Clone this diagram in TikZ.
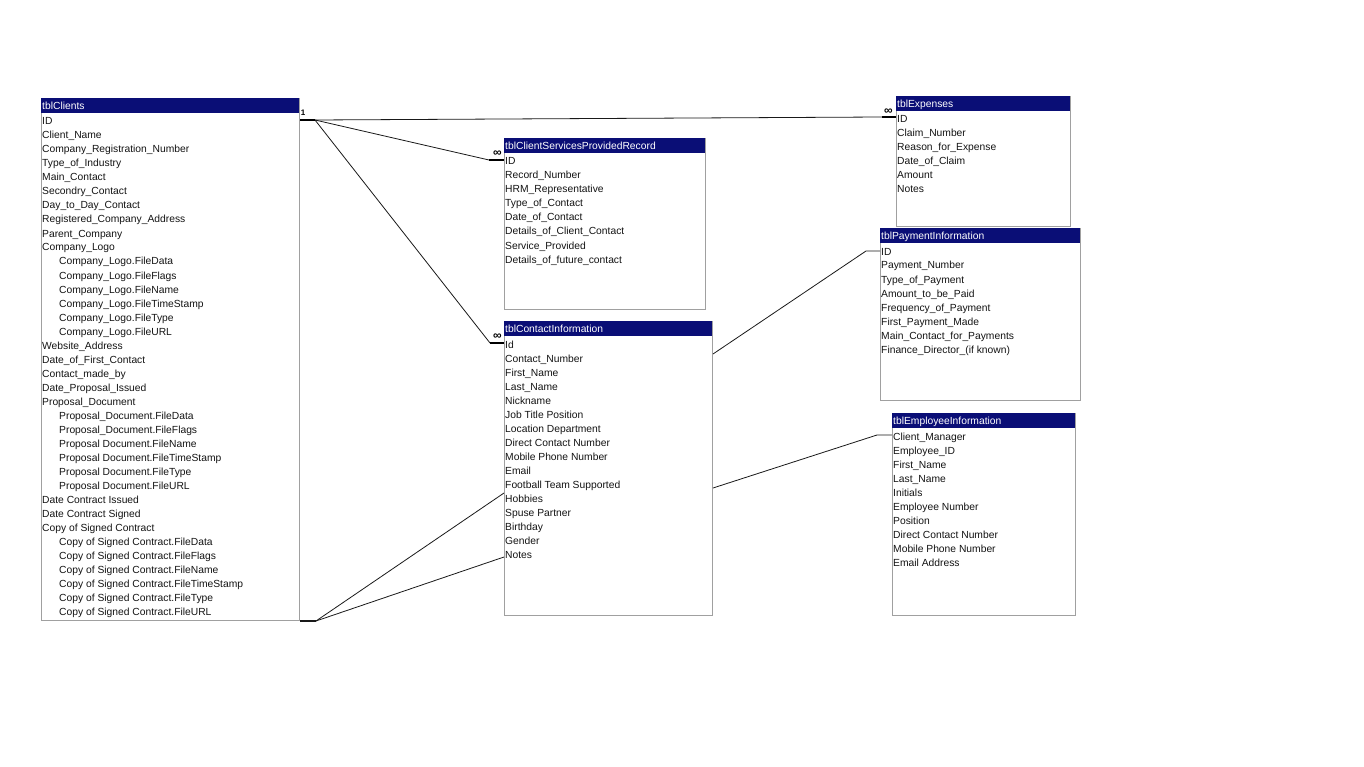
\documentclass[tikz,border=0pt]{standalone}
\usepackage{fontspec}
\setmainfont{Liberation Sans}
\usetikzlibrary{calc}
\definecolor{hdr}{RGB}{10,14,118}
\definecolor{bord}{RGB}{160,160,160}
\tikzset{
  tbox/.style={draw=bord, line width=1pt, fill=white, inner sep=0pt},
  htext/.style={text=white, font=\fontsize{10.3}{12}\selectfont, inner sep=0pt},
  fld/.style={text=black!92, font=\fontsize{10.3}{12}\selectfont, inner sep=0pt},
  link/.style={draw=black!90, line width=0.8pt},
  joint/.style={draw=black, line width=2.6pt},
  cardlab/.style={font=\bfseries\fontsize{8}{9}\selectfont, inner sep=0pt},
  manylab/.style={font=\bfseries\fontsize{12}{13}\selectfont, inner sep=0pt},
}
% name, x, ytop, width, height, title, fields (indent/text)
\newcommand\dbtab[7]{%
  \node[tbox, minimum width=#4pt, minimum height=#5pt, anchor=north west] (#1) at (#2,#3) {};
  \fill[hdr] (#2,#3) rectangle ++(#4,15);
  \node[htext, anchor=base west] (#1-h) at (#2+1,#3+11.8) {#6};
  \foreach \ind/\txt [count=\i] in {#7} {
    \node[fld, anchor=base west] (#1-\i) at (#2+1+\ind,#3+27+14*\i-14) {\txt};
  }%
}
\begin{document}
\begin{tikzpicture}[x=1pt,y=-1pt]
\useasboundingbox (0,0) rectangle (1364,767);
\fill[white] (0,0) rectangle (1364,767);

\dbtab{cli}{41}{98}{258}{522}{tblClients}{0/ID,0/Client\_Name,0/Company\_Registration\_Number,0/Type\_of\_Industry,0/Main\_Contact,0/Secondry\_Contact,0/Day\_to\_Day\_Contact,0/Registered\_Company\_Address,0/Parent\_Company,0/Company\_Logo,17/Company\_Logo.FileData,17/Company\_Logo.FileFlags,17/Company\_Logo.FileName,17/Company\_Logo.FileTimeStamp,17/Company\_Logo.FileType,17/Company\_Logo.FileURL,0/Website\_Address,0/Date\_of\_First\_Contact,0/Contact\_made\_by,0/Date\_Proposal\_Issued,0/Proposal\_Document,17/Proposal\_Document.FileData,17/Proposal\_Document.FileFlags,17/Proposal Document.FileName,17/Proposal Document.FileTimeStamp,17/Proposal Document.FileType,17/Proposal Document.FileURL,0/Date Contract Issued,0/Date Contract Signed,0/Copy of Signed Contract,17/Copy of Signed Contract.FileData,17/Copy of Signed Contract.FileFlags,17/Copy of Signed Contract.FileName,17/Copy of Signed Contract.FileTimeStamp,17/Copy of Signed Contract.FileType,17/Copy of Signed Contract.FileURL}

\dbtab{exp}{896}{96}{174}{130}{tblExpenses}{0/ID,0/Claim\_Number,0/Reason\_for\_Expense,0/Date\_of\_Claim,0/Amount,0/Notes}

\dbtab{svc}{504}{138}{201}{171}{tblClientServicesProvidedRecord}{0/ID,0/Record\_Number,0/HRM\_Representative,0/Type\_of\_Contact,0/Date\_of\_Contact,0/Details\_of\_Client\_Contact,0/Service\_Provided,0/Details\_of\_future\_contact}

\dbtab{con}{504}{321}{208}{294}{tblContactInformation}{0/Id,0/Contact\_Number,0/First\_Name,0/Last\_Name,0/Nickname,0/Job Title Position,0/Location Department,0/Direct Contact Number,0/Mobile Phone Number,0/Email,0/Football Team Supported,0/Hobbies,0/Spuse Partner,0/Birthday,0/Gender,0/Notes}

\dbtab{pay}{880}{228}{200}{172}{tblPaymentInformation}{0/ID,0/Payment\_Number,0/Type\_of\_Payment,0/Amount\_to\_be\_Paid,0/Frequency\_of\_Payment,0/First\_Payment\_Made,0/Main\_Contact\_for\_Payments,0/Finance\_Director\_(if known)}

\dbtab{emp}{892}{413}{183}{202}{tblEmployeeInformation}{0/Client\_Manager,0/Employee\_ID,0/First\_Name,0/Last\_Name,0/Initials,0/Employee Number,0/Position,0/Direct Contact Number,0/Mobile Phone Number,0/Email Address}

% anchor points
\coordinate (cliR) at ($(cli.north east)+(0,22)$);
\coordinate (cliRo) at ($(cliR)+(15,0)$);
\coordinate (cliB) at (cli.south east);
\coordinate (cliBo) at ($(cliB)+(16,0)$);
\coordinate (expL) at ($(exp.north west)+(0,21)$);
\coordinate (expLo) at ($(expL)+(-14,0)$);
\coordinate (svcL) at ($(svc.north west)+(0,22)$);
\coordinate (svcLo) at ($(svcL)+(-15,0)$);
\coordinate (conL) at ($(con.north west)+(0,22)$);
\coordinate (conLo) at ($(conL)+(-14,0)$);
\coordinate (conH) at ($(con.north west)+(0,172)$);
\coordinate (conN) at ($(con.north west)+(0,236)$);
\coordinate (conP) at ($(con.north east)+(0,33)$);
\coordinate (conE) at ($(con.north east)+(0,167)$);
\coordinate (payL) at ($(pay.north west)+(0,23)$);
\coordinate (payLo) at ($(payL)+(-14,0)$);
\coordinate (empL) at ($(emp.north west)+(0,22)$);
\coordinate (empLo) at ($(empL)+(-15,0)$);

% connectors
\draw[link] (cliRo) -- (expLo);
\draw[link] (cliRo) -- (svcLo);
\draw[link] (cliRo) -- (conLo);
\draw[joint] (cliR) -- (cliRo);
\draw[joint] (expLo) -- (expL);
\draw[joint] (svcLo) -- (svcL);
\draw[joint] (conLo) -- (conL);
\draw[link, line width=1.2pt] (cliB) -- (cliBo);
\draw[link] (cliBo) -- (conH);
\draw[link] (cliBo) -- (conN);
\draw[link] (conP) -- (payLo) -- (payL);
\draw[link] (conE) -- (empLo) -- (empL);

% cardinality labels
\node[cardlab] (one) at (303,113) {1};
\node[manylab] (mexp) at (888.5,111.5) {∞};
\node[manylab] (msvc) at (497.5,153.5) {∞};
\node[manylab] (mcon) at (497.5,336.5) {∞};
\end{tikzpicture}
\end{document}
